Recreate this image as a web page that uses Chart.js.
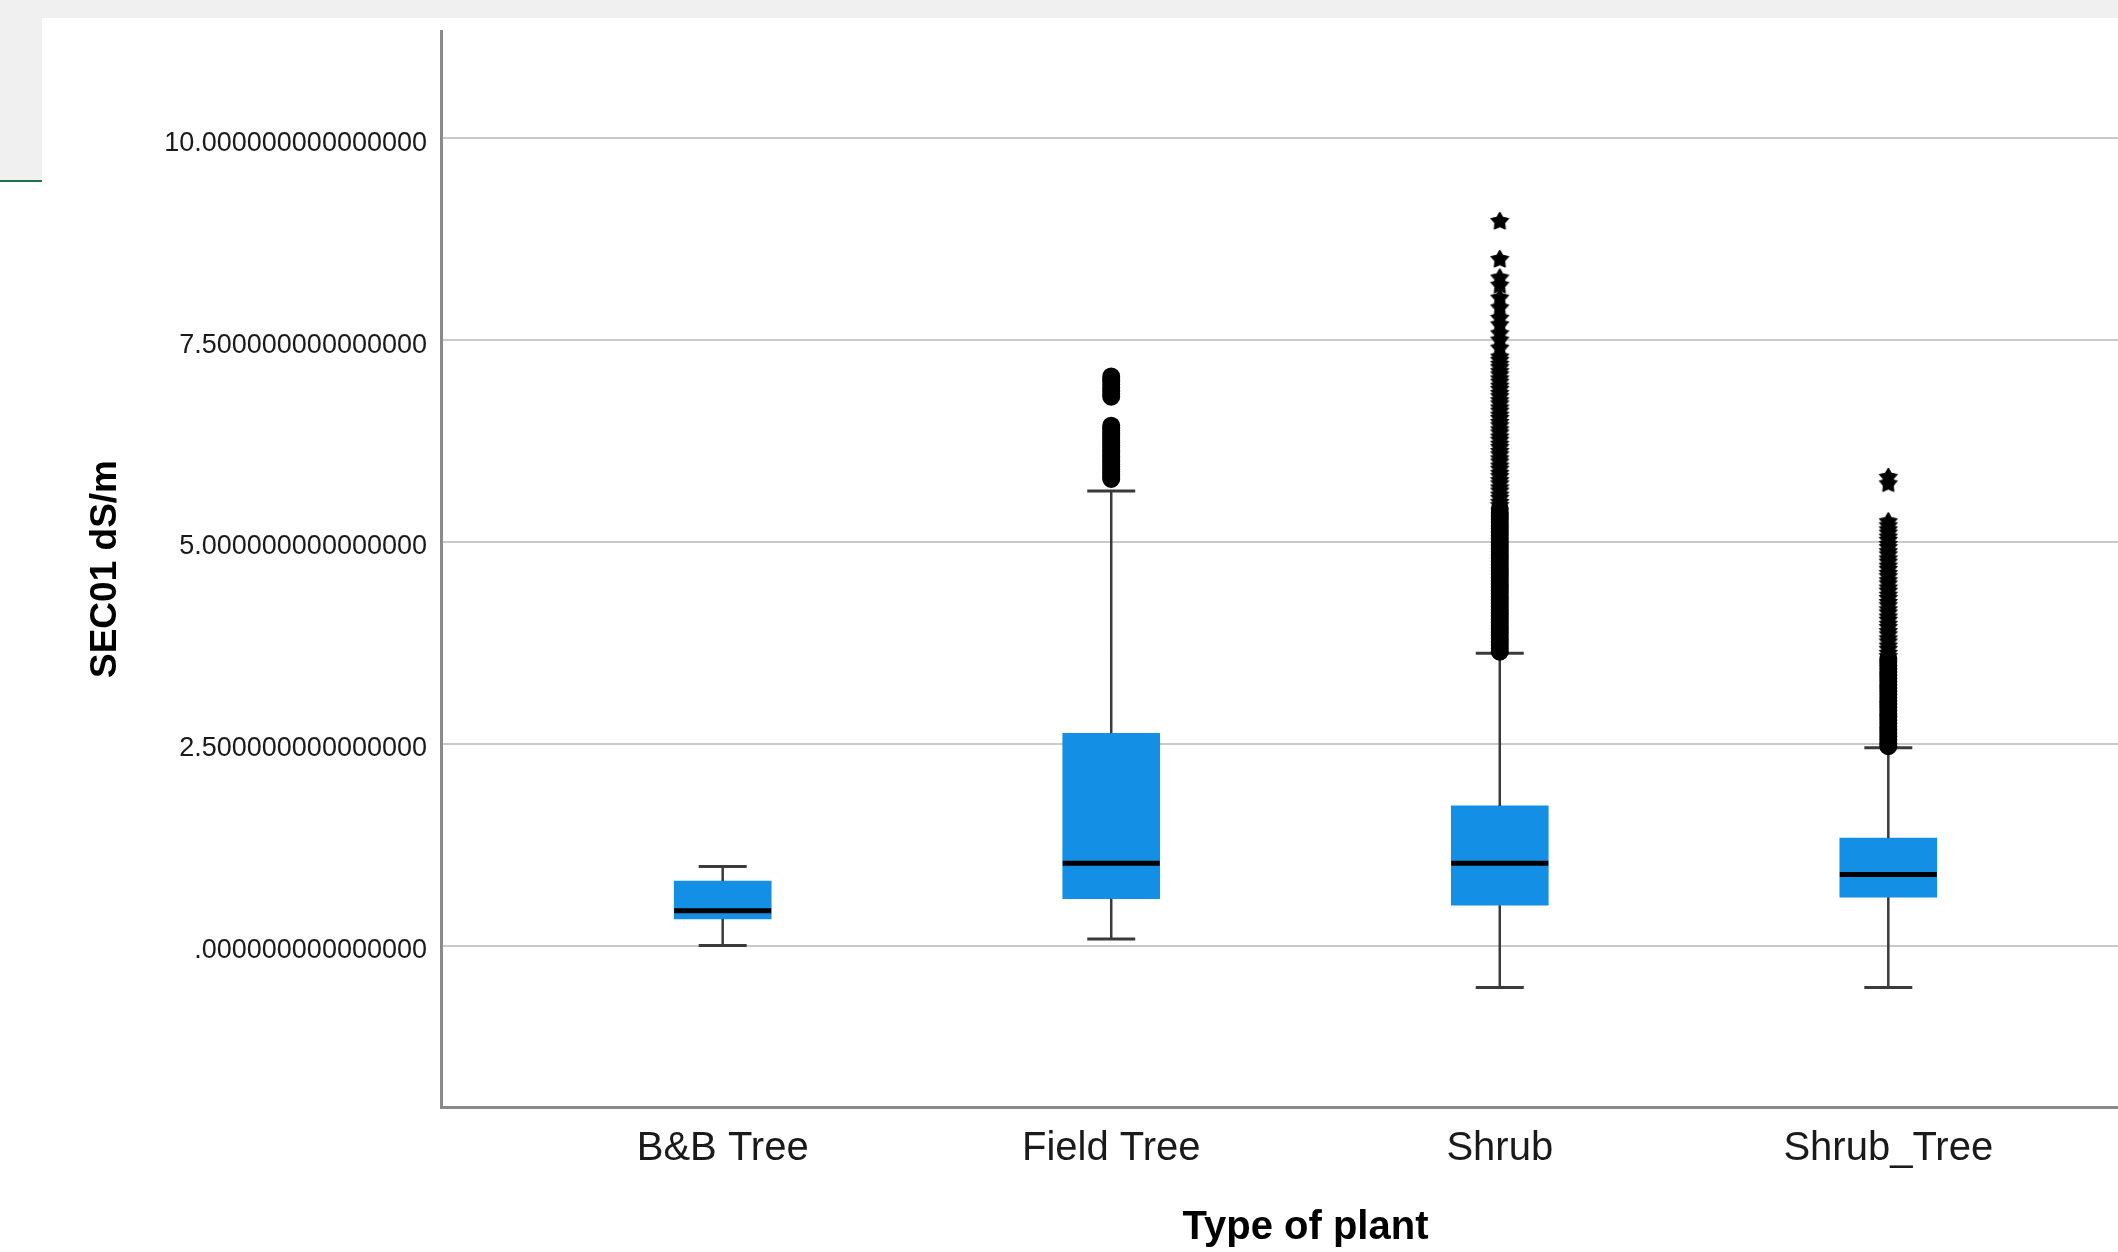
<!DOCTYPE html>
<html>
<head>
<meta charset="utf-8">
<script src="https://cdn.jsdelivr.net/npm/chart.js@4.4.1/dist/chart.umd.min.js"></script>
<style>
  html, body { margin: 0; padding: 0; background: #ffffff; overflow: hidden; }
  /* the plot runs on past the right edge of the picture */
  #wrap { position: absolute; left: 0; top: 0; width: 2170px; height: 1252px; }
  /* window chrome left over in the screenshot */
  .band { position: absolute; left: 0; top: 0; width: 2118px; height: 18px; background: #f0f0f0; }
  .panel { position: absolute; left: 0; top: 0; width: 42px; height: 180px; background: #f0f0f0; border-bottom: 2px solid #217346; }
</style>
</head>
<body>
<div id="wrap"><canvas id="box-chart" width="2170" height="1252"></canvas></div>
<div class="band"></div>
<div class="panel"></div>
<script>
// Box plot of SEC01 dS/m by type of plant
const categories = ['B&B Tree', 'Field Tree', 'Shrub', 'Shrub_Tree'];
const whiskerLow = [0.00, 0.08, -0.52, -0.52];
const q1 = [0.33, 0.58, 0.50, 0.60];
const median = [0.43, 1.02, 1.02, 0.88];
const q3 = [0.80, 2.63, 1.73, 1.33];
const whiskerHigh = [0.98, 5.63, 3.62, 2.45];

const yTicks = [0, 2.5, 5, 7.5, 10];
const yTickLabels = ['.000000000000000', '2.500000000000000', '5.000000000000000', '7.500000000000000', '10.000000000000000'];

// outliers (circles) and extremes (stars), per category
const outlierCircles = [
  [],
  [5.78, 5.81, 5.84, 5.87, 5.90, 5.93, 5.96, 5.99, 6.02, 6.05, 6.08, 6.11, 6.14, 6.17, 6.20, 6.23, 6.26, 6.29, 6.32, 6.35, 6.38, 6.41, 6.44,
   6.80, 6.83, 6.87, 6.91, 6.95, 6.99, 7.02, 7.05],
  [3.64, 3.68, 3.72, 3.76, 3.80, 3.84, 3.88, 3.92, 3.96, 4.00, 4.04, 4.08, 4.12, 4.16, 4.20, 4.24, 4.28, 4.32, 4.36, 4.40, 4.44, 4.48,
   4.52, 4.56, 4.60, 4.64, 4.68, 4.72, 4.76, 4.80, 4.84, 4.88, 4.92, 4.96, 5.00, 5.04, 5.08, 5.12, 5.16, 5.20, 5.24, 5.28, 5.32, 5.36, 5.41],
  [2.47, 2.51, 2.55, 2.59, 2.63, 2.67, 2.71, 2.75, 2.79, 2.83, 2.87, 2.91, 2.95, 2.99, 3.03, 3.07, 3.11, 3.15, 3.19, 3.23, 3.27, 3.31,
   3.35, 3.39, 3.43, 3.47, 3.51, 3.55]
];
const outlierStars = [
  [],
  [],
  [5.45, 5.49, 5.54, 5.58, 5.63, 5.67, 5.72, 5.76, 5.81, 5.85, 5.90, 5.94, 5.99, 6.03, 6.08, 6.12, 6.17, 6.21, 6.26, 6.30, 6.35, 6.39,
   6.44, 6.48, 6.53, 6.57, 6.62, 6.66, 6.71, 6.75, 6.80, 6.84, 6.89, 6.93, 6.98, 7.02, 7.07, 7.11, 7.16, 7.20, 7.25, 7.29,
   7.40, 7.50, 7.58, 7.69, 7.77, 7.90, 8.02, 8.18, 8.27, 8.50, 8.97],
  [3.58, 3.62, 3.67, 3.71, 3.76, 3.80, 3.85, 3.89, 3.94, 3.98, 4.03, 4.07, 4.12, 4.16, 4.21, 4.25, 4.30, 4.34, 4.39, 4.43, 4.48, 4.52,
   4.57, 4.61, 4.66, 4.70, 4.75, 4.79, 4.84, 4.88, 4.93, 4.97, 5.02, 5.06, 5.11, 5.15, 5.20, 5.25, 5.72, 5.80]
];

const boxColor = '#1390e6';

function makeStar(r) {
  const c = document.createElement('canvas');
  const s = Math.ceil(r * 2 + 4);
  c.width = s;
  c.height = s;
  const g = c.getContext('2d');
  g.translate(s / 2, s / 2);
  g.beginPath();
  for (let k = 0; k < 10; k++) {
    const rad = k % 2 === 0 ? r : r * 0.55;
    const a = -Math.PI / 2 + k * Math.PI / 5;
    if (k === 0) g.moveTo(rad * Math.cos(a), rad * Math.sin(a));
    else g.lineTo(rad * Math.cos(a), rad * Math.sin(a));
  }
  g.closePath();
  g.fillStyle = '#000';
  g.fill();
  g.lineWidth = 1;
  g.strokeStyle = '#000';
  g.stroke();
  return c;
}

const pos = categories.map((c, i) => i + 1);

const boxData = pos.map((x, i) => ({ x: x, y: [q1[i], q3[i]] }));
const stemData = [];
pos.forEach((x, i) => {
  stemData.push({ x: x, y: whiskerLow[i] }, { x: x, y: q1[i] }, { x: x, y: null });
  stemData.push({ x: x, y: q3[i] }, { x: x, y: whiskerHigh[i] }, { x: x, y: null });
});
const capData = [];
pos.forEach((x, i) => {
  capData.push({ x: x, y: whiskerLow[i] }, { x: x, y: whiskerHigh[i] });
});
const medianData = pos.map((x, i) => ({ x: x, y: median[i] }));
const circleData = [];
const starData = [];
pos.forEach((x, i) => {
  outlierCircles[i].forEach(v => circleData.push({ x: x, y: v }));
  outlierStars[i].forEach(v => starData.push({ x: x, y: v }));
});

const ctx = document.getElementById('box-chart').getContext('2d');

new Chart(ctx, {
  type: 'bar',
  data: {
    datasets: [
      {
        type: 'bar',
        data: boxData,
        backgroundColor: boxColor,
        borderWidth: 0,
        barThickness: 97,
        order: 5
      },
      {
        type: 'line',
        data: stemData,
        borderColor: '#3a3a3a',
        borderWidth: 2.5,
        pointRadius: 0,
        spanGaps: false,
        order: 4
      },
      {
        type: 'line',
        data: capData,
        showLine: false,
        pointStyle: 'line',
        pointRadius: 24,
        pointBorderWidth: 3,
        pointBorderColor: '#3a3a3a',
        order: 3
      },
      {
        type: 'line',
        data: medianData,
        showLine: false,
        pointStyle: 'line',
        pointRadius: 48.5,
        pointBorderWidth: 5,
        pointBorderColor: '#000000',
        order: 1
      },
      {
        type: 'line',
        data: circleData,
        showLine: false,
        pointStyle: 'circle',
        pointRadius: 7,
        pointBorderWidth: 4,
        pointBorderColor: '#000000',
        pointBackgroundColor: 'rgba(0,0,0,0)',
        order: 2
      },
      {
        type: 'line',
        data: starData,
        showLine: false,
        pointStyle: makeStar(9.5),
        order: 2
      }
    ]
  },
  options: {
    responsive: false,
    animation: false,
    devicePixelRatio: 1,
    events: [],
    layout: {
      autoPadding: false,
      padding: { top: 31, left: 0, right: 0, bottom: 0 }
    },
    plugins: {
      legend: { display: false },
      tooltip: { enabled: false }
    },
    scales: {
      x: {
        type: 'linear',
        min: 0.275,
        max: 4.725,
        offset: false,
        afterBuildTicks: (scale) => {
          scale.ticks = pos.map(v => ({ value: v }));
        },
        afterFit: (scale) => {
          scale.height = 145;
          scale.paddingLeft = 0;
          scale.paddingRight = 0;
        },
        grid: { display: false, drawTicks: false, offset: false },
        border: { display: true, color: '#8a8a8a', width: 3 },
        ticks: {
          autoSkip: false,
          maxRotation: 0,
          padding: 18,
          color: '#1a1a1a',
          font: { family: 'Liberation Sans, Arial, sans-serif', size: 40 },
          callback: (v) => categories[v - 1]
        },
        title: {
          display: true,
          text: 'Type of plant',
          color: '#000000',
          padding: { top: 0, bottom: 0 },
          font: { family: 'Liberation Sans, Arial, sans-serif', size: 40, weight: 'bold', lineHeight: 1.2 }
        }
      },
      y: {
        type: 'linear',
        min: -2,
        max: 11.33,
        afterBuildTicks: (scale) => {
          scale.ticks = yTicks.map(v => ({ value: v }));
        },
        afterFit: (scale) => {
          scale.width = 441;
          scale.paddingTop = 0;
          scale.paddingBottom = 0;
        },
        grid: { color: '#c9c9c9', lineWidth: 2, drawTicks: false },
        border: { display: true, color: '#8a8a8a', width: 3 },
        ticks: {
          padding: 14,
          labelOffset: 5,
          color: '#1a1a1a',
          font: { family: 'Liberation Sans, Arial, sans-serif', size: 27 },
          callback: (v) => yTickLabels[yTicks.indexOf(v)]
        },
        title: {
          display: true,
          text: 'SEC01 dS/m',
          color: '#000000',
          padding: { top: 84, bottom: 0 },
          font: { family: 'Liberation Sans, Arial, sans-serif', size: 37, weight: 'bold', lineHeight: 1.2 }
        }
      }
    }
  }
});
</script>
</body>
</html>
